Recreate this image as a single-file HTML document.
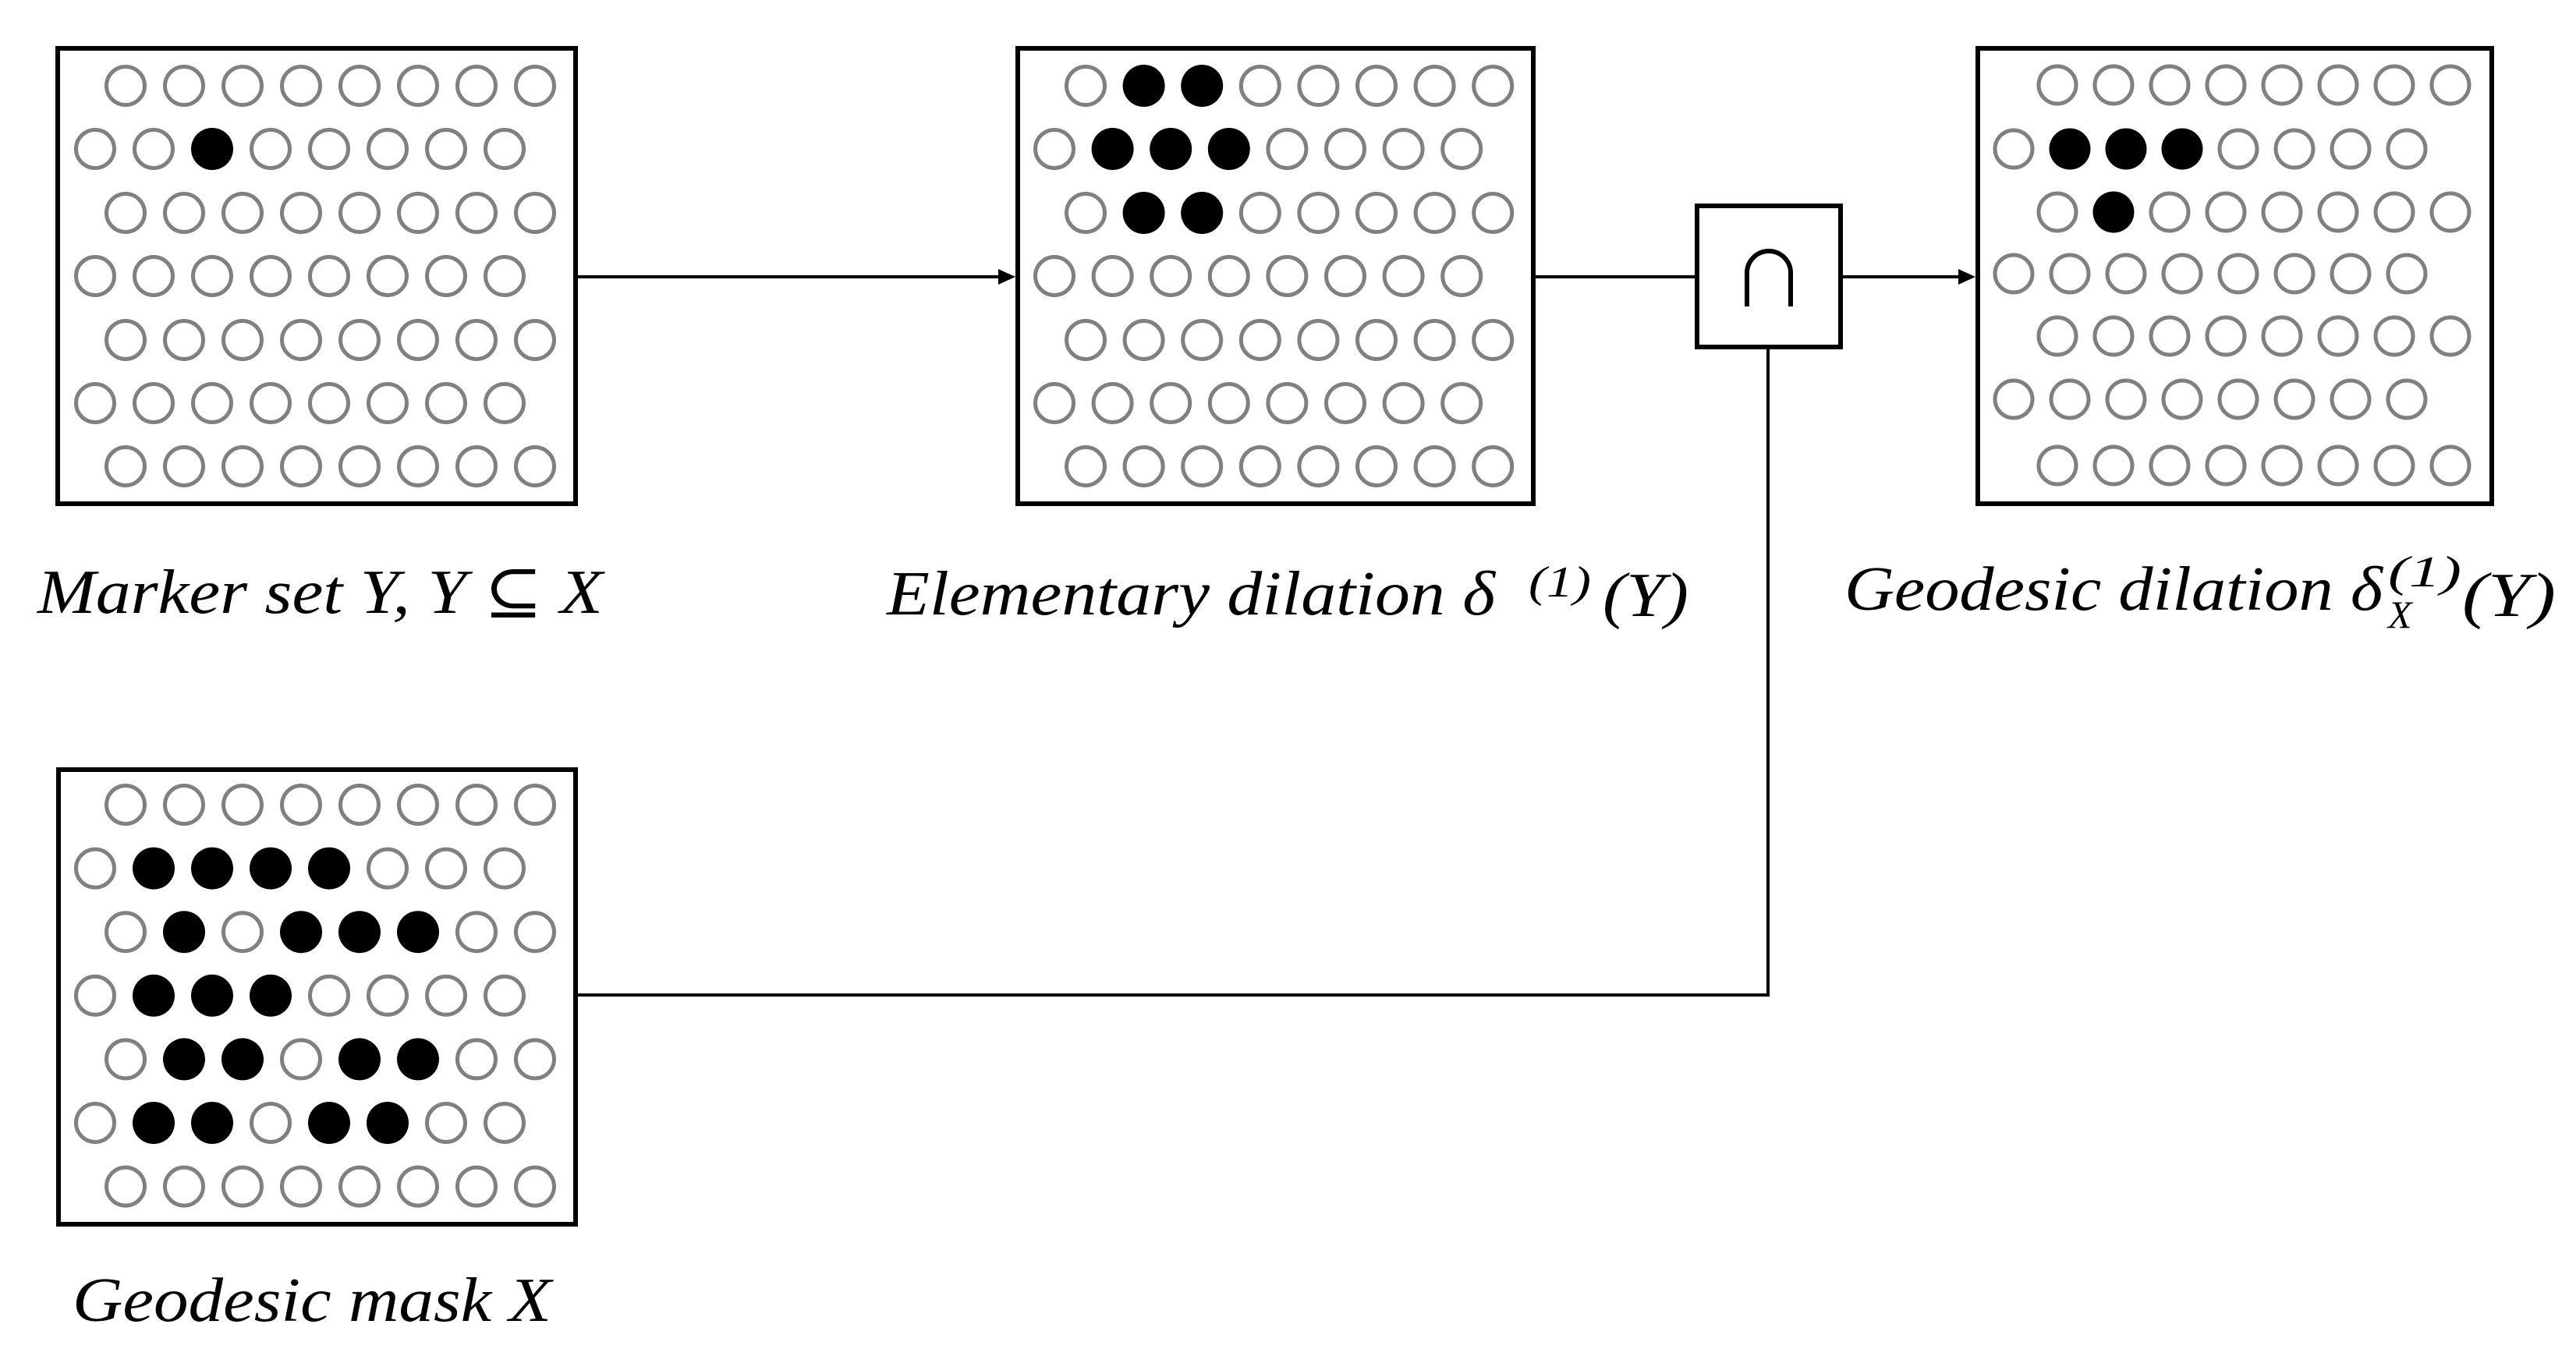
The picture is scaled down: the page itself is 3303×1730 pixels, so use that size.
<!DOCTYPE html>
<html><head><meta charset="utf-8"><style>html,body{margin:0;padding:0;background:#fff}svg{display:block}</style></head>
<body>
<svg id="s" xmlns="http://www.w3.org/2000/svg" width="3303" height="1730" viewBox="0 0 3303 1730">
<rect width="3303" height="1730" fill="#fff"/>
<g fill="none" stroke="#000" stroke-width="6">
<rect x="74" y="62" width="664" height="584"/>
<rect x="1305" y="62" width="661" height="584"/>
<rect x="2536" y="62" width="659" height="584"/>
<rect x="75" y="987" width="663" height="583"/>
<rect x="2176" y="264" width="184" height="181"/>
</g>
<g stroke="#000" stroke-width="4" fill="none">
<line x1="738" y1="355" x2="1285" y2="355"/>
<line x1="1966" y1="355" x2="2176" y2="355"/>
<line x1="2360" y1="355" x2="2516" y2="355"/>
<polyline points="740,1276 2267,1276 2267,445"/>
</g>
<polygon points="1302,355 1280,345 1280,365" fill="#000"/>
<polygon points="2533,355 2511,345 2511,365" fill="#000"/>
<path d="M2240 393 V350 A28 28 0 0 1 2296 350 V393" fill="none" stroke="#000" stroke-width="6"/>
<g id="dots"></g>
<g font-family="'Liberation Serif','DejaVu Serif',serif" font-style="italic" fill="#000">
<text x="48" y="786" font-size="80" textLength="725" lengthAdjust="spacingAndGlyphs">Marker set Y, Y ⊆ X</text>
<text x="1137" y="788" font-size="80" textLength="780" lengthAdjust="spacingAndGlyphs">Elementary dilation δ</text>
<text x="1960" y="765" font-size="56" textLength="80" lengthAdjust="spacingAndGlyphs">(1)</text>
<text x="2055" y="790" font-size="80" textLength="110" lengthAdjust="spacingAndGlyphs">(Y)</text>
<text x="2365" y="782" font-size="80" textLength="690" lengthAdjust="spacingAndGlyphs">Geodesic dilation δ</text>
<text x="3062" y="752" font-size="56" textLength="94" lengthAdjust="spacingAndGlyphs">(1)</text>
<text x="3062" y="805" font-size="50">X</text>
<text x="3157" y="790" font-size="80" textLength="120" lengthAdjust="spacingAndGlyphs">(Y)</text>
<text x="93" y="1694" font-size="80" textLength="614" lengthAdjust="spacingAndGlyphs">Geodesic mask X</text>
</g>
</svg>
<script>
(function(){
var NS="http://www.w3.org/2000/svg",g=document.getElementById("dots");
function panel(ox,oe,dx,ys,blk,r){
 for(var i=0;i<7;i++){
  var x0=(i%2==0)?ox:oe;
  for(var j=0;j<8;j++){
   var c=document.createElementNS(NS,"circle");
   c.setAttribute("cx",x0+j*dx);c.setAttribute("cy",ys[i]);
   var b=blk[i]&&blk[i].indexOf(j)>=0;
   if(b){c.setAttribute("r",r+2.5);c.setAttribute("fill","#000");}
   else{c.setAttribute("r",r);c.setAttribute("fill","none");c.setAttribute("stroke","#808080");c.setAttribute("stroke-width","5");}
   g.appendChild(c);
  }
 }
}
var ys=[110,191,273,354,436,517,598];
panel(161,122,75,ys,{1:[2]},24.5);
panel(1392,1352,74.6,ys,{0:[1,2],1:[1,2,3],2:[1,2]},24.5);
panel(2638,2582,72,[109,191,272,351,431,512,597],{1:[1,2,3],2:[1]},24);
var yb=[];for(var k=0;k<7;k++)yb.push(1032+k*81.6);
panel(161,122,75,yb,{1:[1,2,3,4],2:[1,3,4,5],3:[1,2,3],4:[1,2,4,5],5:[1,2,4,5]},24.5);
})();
</script>
</body></html>
